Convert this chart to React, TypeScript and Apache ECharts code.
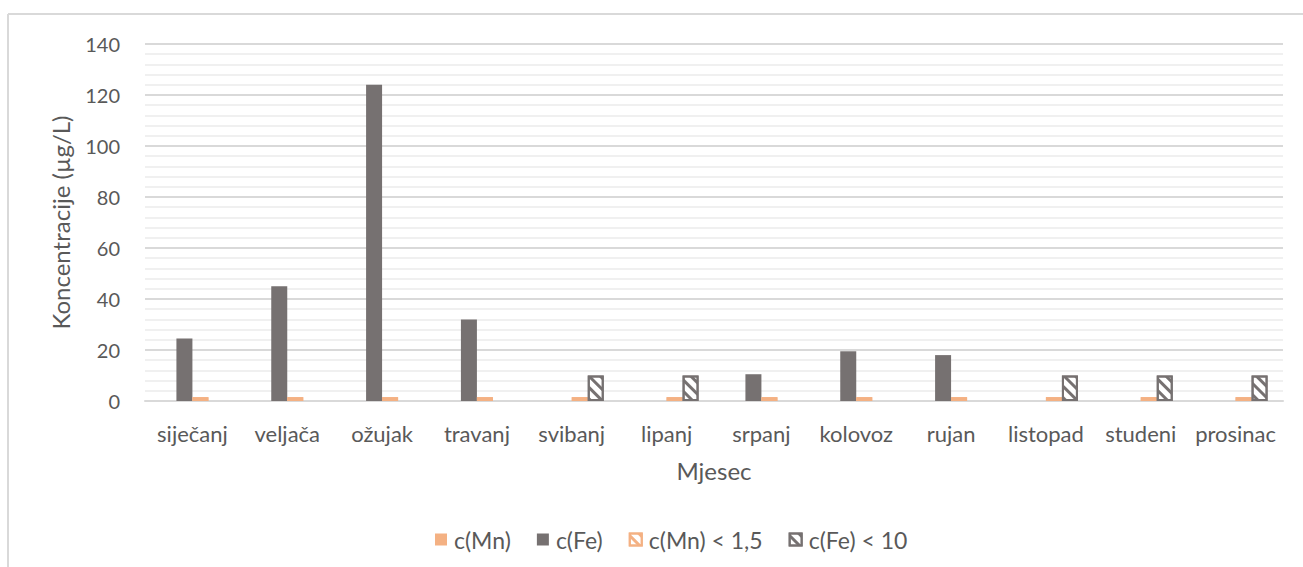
import React, { useEffect, useRef } from "react";
import * as echarts from "echarts";

const months = ["siječanj", "veljača", "ožujak", "travanj", "svibanj", "lipanj", "srpanj", "kolovoz", "rujan", "listopad", "studeni", "prosinac"];
const mnValues: (number | null)[] = [null, null, null, null, null, null, null, null, null, null, null, null];
const feValues: (number | null)[] = [24.5, 45, 124, 32, null, null, 10.5, 19.5, 18, null, null, null];
const mnBelow: (number | null)[] = [1.5, 1.5, 1.5, 1.5, 1.5, 1.5, 1.5, 1.5, 1.5, 1.5, 1.5, 1.5];
const feBelow: (number | null)[] = [null, null, null, null, 10, 10, null, null, null, 10, 10, 10];
const seriesNames = ["c(Mn)", "c(Fe)", "c(Mn) < 1,5", "c(Fe) < 10"];

const ORANGE = "#F4B183";
const GREY = "#767171";
const TEXT = "#595959";
const FONT = "Lato, 'Open Sans', sans-serif";

export default function App() {
  const ref = useRef<HTMLDivElement>(null);
  useEffect(() => {
    if (!ref.current) return;
    const chart = echarts.init(ref.current, undefined, { renderer: "svg" });
    const hatch = (c: string) => ({
      symbol: "rect",
      color: c,
      dashArrayX: [1, 0],
      dashArrayY: [3, 5],
      rotation: Math.PI / 4,
      symbolSize: 1,
    });
    chart.setOption({
      animation: false,
      textStyle: { fontFamily: FONT },
      graphic: [
        { type: "line", shape: { x1: 8, y1: 14, x2: 1303, y2: 14 }, style: { stroke: "#d9d9d9", lineWidth: 2 } },
        { type: "line", shape: { x1: 8, y1: 14, x2: 8, y2: 567 }, style: { stroke: "#d9d9d9", lineWidth: 2 } },
      ],
      grid: { left: 145, right: 20, top: 44, bottom: 166, containLabel: false },
      legend: {
        data: seriesNames,
        top: 523,
        left: 430,
        itemWidth: 12,
        itemHeight: 12,
        itemGap: 26,
        icon: "rect",
        textStyle: { color: TEXT, fontSize: 23, fontFamily: FONT, padding: [0, 0, 0, 2] },
      },
      xAxis: {
        type: "category",
        data: months,
        name: "Mjesec",
        nameLocation: "middle",
        nameGap: 57,
        nameTextStyle: { color: TEXT, fontSize: 24, fontFamily: FONT, verticalAlign: "top" },
        axisLine: { lineStyle: { color: "#d9d9d9", width: 2 } },
        axisTick: { show: false },
        axisLabel: { color: TEXT, fontSize: 22, margin: 21, fontFamily: FONT, interval: 0 },
      },
      yAxis: {
        type: "value",
        min: 0,
        max: 140,
        interval: 20,
        name: "Koncentracije (µg/L)",
        nameLocation: "middle",
        nameGap: 73,
        nameTextStyle: { color: TEXT, fontSize: 24, fontFamily: FONT },
        axisLine: { show: false },
        axisTick: { show: false },
        axisLabel: { color: TEXT, fontSize: 20, margin: 25, fontFamily: FONT },
        splitLine: { lineStyle: { color: "#d9d9d9", width: 2 } },
        minorTick: { show: false, splitNumber: 5 },
        minorSplitLine: { show: true, lineStyle: { color: "#f0f0f0", width: 2 } },
      },
      series: [
        { name: seriesNames[0], type: "bar", data: mnValues, barWidth: 16, barGap: "0%", itemStyle: { color: ORANGE } },
        { name: seriesNames[1], type: "bar", data: feValues, barWidth: 16, barGap: "0%", itemStyle: { color: GREY } },
        {
          name: seriesNames[2], type: "bar", data: mnBelow, barWidth: 16, barGap: "0%",
          itemStyle: { color: "#ffffff", borderColor: ORANGE, borderWidth: 2, decal: hatch(ORANGE) },
        },
        {
          name: seriesNames[3], type: "bar", data: feBelow, barWidth: 16, barGap: "0%",
          itemStyle: { color: "#ffffff", borderColor: GREY, borderWidth: 2, decal: hatch(GREY) },
        },
      ],
    });
    return () => chart.dispose();
  }, []);
  return (
    <div style={{ position: "fixed", left: 0, top: 0, width: 1303, height: 567, overflow: "hidden", background: "#fff" }}>
      <div ref={ref} style={{ width: 1303, height: 567 }} />
    </div>
  );
}
